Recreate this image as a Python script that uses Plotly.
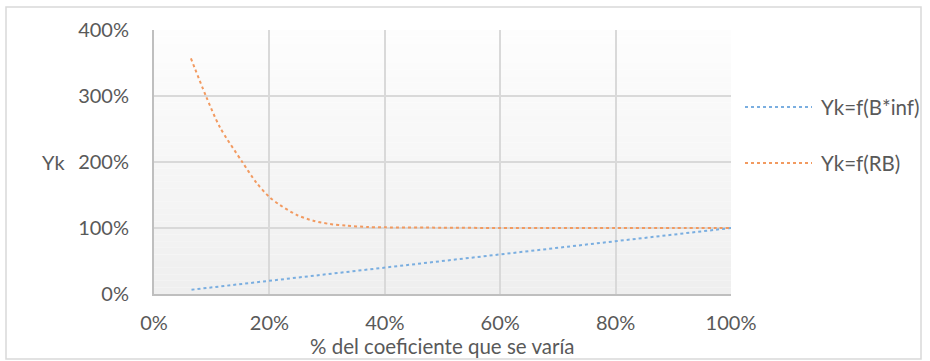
import plotly.graph_objects as go

# Series values (fractions; shown as percentages)
x_binf = [0.065, 0.1, 0.2, 0.3, 0.4, 0.5, 0.6, 0.7, 0.8, 0.9, 1.0]
y_binf = [0.065, 0.1, 0.2, 0.3, 0.4, 0.5, 0.6, 0.7, 0.8, 0.9, 1.0]

x_rb = [0.064, 0.09, 0.114, 0.153, 0.178, 0.2, 0.218, 0.247, 0.276, 0.305,
        0.334, 0.37, 0.4, 0.5, 0.6, 0.7, 0.8, 0.9, 1.0]
y_rb = [3.57, 3.0, 2.53, 2.0, 1.68, 1.47, 1.35, 1.2, 1.11, 1.06,
        1.035, 1.015, 1.01, 1.005, 1.0, 1.0, 1.0, 1.0, 1.0]

series_names = ["Yk=f(B*inf)", "Yk=f(RB)"]
series_colors = ["#7aaee0", "#f29a60"]
x_title = "% del coeficiente que se varía"
y_title = "Yk"

W, H = 930, 361
L, R, T, B = 154, 199, 30, 67
pw, ph = W - L - R, H - T - B

FONT = "Lato"
TXT = "#595959"

fig = go.Figure()
fig.add_trace(go.Scatter(x=x_binf, y=y_binf, mode="lines", name=series_names[0],
                         line=dict(color=series_colors[0], width=2, dash="dot"),
                         showlegend=False))
fig.add_trace(go.Scatter(x=x_rb, y=y_rb, mode="lines", name=series_names[1],
                         line=dict(color=series_colors[1], width=2, dash="dot",
                                   shape="spline", smoothing=0.8),
                         showlegend=False))

shapes = []
# soft vertical gradient behind the plot area
n = 40
top_c, bot_c = (253, 253, 253), (239, 239, 239)
for i in range(n):
    t = i / (n - 1)
    c = tuple(round(top_c[k] + (bot_c[k] - top_c[k]) * t) for k in range(3))
    shapes.append(dict(type="rect", xref="paper", yref="paper",
                       x0=0, x1=1, y0=1 - (i + 1) / n, y1=1 - i / n,
                       fillcolor="rgb(%d,%d,%d)" % c, line=dict(width=0),
                       layer="below"))


def px_x(p):
    return (p - L) / pw


def px_y(p):
    return (H - B - p) / ph


# outer chart frame
shapes.append(dict(type="rect", xref="paper", yref="paper",
                   x0=px_x(6), x1=px_x(921), y0=px_y(359), y1=px_y(7),
                   line=dict(color="#d9d9d9", width=1.5), layer="below"))

# legend samples and labels
legend_y = [107, 163]
annotations = []
for name, col, yy in zip(series_names, series_colors, legend_y):
    shapes.append(dict(type="line", xref="paper", yref="paper",
                       x0=px_x(745), x1=px_x(812), y0=px_y(yy), y1=px_y(yy),
                       line=dict(color=col, width=2, dash="dot")))
    annotations.append(dict(xref="paper", yref="paper", x=px_x(819), y=px_y(yy),
                            text=name, showarrow=False, xanchor="left",
                            yanchor="middle",
                            font=dict(family=FONT, size=20.5, color=TXT)))

annotations.append(dict(xref="paper", yref="paper", x=px_x(53), y=px_y(162),
                        text=y_title, showarrow=False, xanchor="center",
                        yanchor="middle", font=dict(family=FONT, size=20, color=TXT)))
annotations.append(dict(xref="paper", yref="paper", x=px_x(442), y=px_y(346),
                        text=x_title, showarrow=False, xanchor="center",
                        yanchor="middle", font=dict(family=FONT, size=20.5, color=TXT)))

fig.update_layout(
    width=W, height=H,
    margin=dict(l=L, r=R, t=T, b=B, pad=0),
    paper_bgcolor="white", plot_bgcolor="rgba(0,0,0,0)",
    font=dict(family=FONT, size=20, color=TXT),
    shapes=shapes, annotations=annotations,
    xaxis=dict(range=[0, 1], dtick=0.2, tick0=0, tickformat=".0%",
               showgrid=True, gridcolor="#d9d9d9", gridwidth=2,
               showline=True, linecolor="#bfbfbf", linewidth=2,
               zeroline=False, ticks="", ticklabelstandoff=10,
               fixedrange=True),
    yaxis=dict(range=[0, 4], dtick=1, tick0=0, tickformat=".0%",
               showgrid=True, gridcolor="#d9d9d9", gridwidth=2,
               showline=True, linecolor="#bfbfbf", linewidth=2,
               zeroline=False, ticks="", ticklabelstandoff=19,
               fixedrange=True),
)

fig.write_html("out.html")
